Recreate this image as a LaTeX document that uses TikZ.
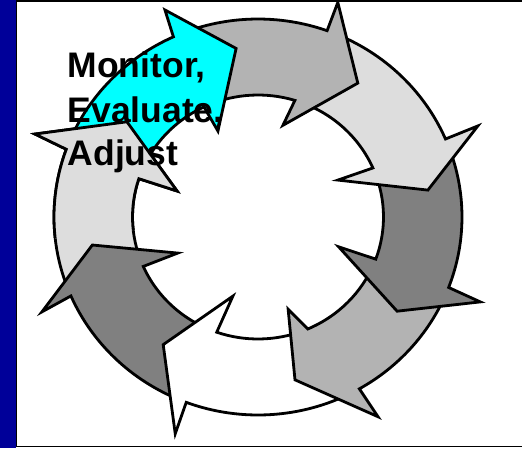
\documentclass[tikz,border=0pt]{standalone}
\usepackage{fontspec}
\setmainfont{Liberation Sans}
\definecolor{barblue}{HTML}{000099}
\definecolor{cyanfill}{HTML}{00FFFF}
\definecolor{midgray}{HTML}{B3B3B3}
\definecolor{lightgray}{HTML}{DDDDDD}
\definecolor{darkgray}{HTML}{808080}
\begin{document}
\begin{tikzpicture}[x=1pt,y=1pt,
  ringarrow/.style={draw=black, line width=2.8pt, line join=miter, miter limit=12},
  lbl/.style={font=\fontsize{35.5}{42}\selectfont\bfseries, inner sep=0pt, anchor=base west, text=black},
  frameline/.style={draw=black, line width=1.6pt}]
\useasboundingbox (0,0) rectangle (522,-448);
\fill[white] (0,0) rectangle (522,-448);
\fill[barblue] (0,0) rectangle (15.5,-448);
\draw[frameline] (524,-1) -- (16.3,-1) -- (16.3,-446.6) -- (524,-446.6);
\begin{scope}[shift={(258,-217)}]
% 8 light gray (left)
\path[ringarrow, fill=lightgray] (-158.5:204 and 198) arc[start angle=-158.5, end angle=-200, x radius=204, y radius=198]
  -- (-200.4:238) -- (-216:162) -- (-197.8:85) -- (-198.3:125.5 and 122)
  arc[start angle=-198.3, end angle=-158.1, x radius=125.5, y radius=122] -- cycle;
% 7 dark gray (left)
\path[ringarrow, fill=darkgray] (-112.6:204 and 198) arc[start angle=-112.6, end angle=-156.5, x radius=204, y radius=198]
  -- (-156.3:236) -- (-170.4:168) -- (-155.8:88) -- (-156.1:125.5 and 122)
  arc[start angle=-156.1, end angle=-111.2, x radius=125.5, y radius=122] -- cycle;
% 6 white
\path[ringarrow, fill=white] (-62.2:204 and 198) arc[start angle=-62.2, end angle=-110.6, x radius=204, y radius=198]
  -- (-110.9:232) -- (-126.6:159) -- (-107.6:83) -- (-109.2:125.5 and 122)
  arc[start angle=-109.2, end angle=-68.6, x radius=125.5, y radius=122] -- cycle;
% 5 medium gray
\path[ringarrow, fill=midgray] (-22.85:204 and 198) arc[start angle=-22.85, end angle=-60.2, x radius=204, y radius=198]
  -- (-59:233) -- (-77.2:167) -- (-71.9:97) -- (-66.6:125.5 and 122)
  arc[start angle=-66.6, end angle=-22.2, x radius=125.5, y radius=122] -- cycle;
% 4 dark gray (right)
\path[ringarrow, fill=darkgray] (21.2:204 and 198) arc[start angle=21.2, end angle=-20.85, x radius=204, y radius=198]
  -- (-20.9:238) -- (-34.1:168) -- (-20.3:86) -- (-20.2:125.5 and 122)
  arc[start angle=-20.2, end angle=21.7, x radius=125.5, y radius=122] -- cycle;
% 3 light gray (top right)
\path[ringarrow, fill=lightgray] (68.2:204 and 198) arc[start angle=68.2, end angle=23.2, x radius=204, y radius=198]
  -- (22.5:238) -- (9:172) -- (24.8:88) -- (23.7:125.5 and 122)
  arc[start angle=23.7, end angle=70.9, x radius=125.5, y radius=122] -- cycle;
% 2 gray (top)
\path[ringarrow, fill=midgray] (112.5:204 and 198) arc[start angle=112.5, end angle=70.2, x radius=204, y radius=198]
  -- (69.6:229) -- (53.3:167) -- (74.8:95) -- (72.9:125.5 and 122)
  arc[start angle=72.9, end angle=113.5, x radius=125.5, y radius=122] -- cycle;
% 1 cyan
\path[ringarrow, fill=cyanfill] (158:204 and 198) arc[start angle=158, end angle=114.5, x radius=204, y radius=198]
  -- (114.2:227) -- (97.4:170) -- (115:94.8) -- (115.5:125.5 and 122)
  arc[start angle=115.5, end angle=159.7, x radius=125.5, y radius=122] -- cycle;
% head of arrow 8 again, over the tail of arrow 1
\begin{scope}
\clip (0,0) -- (128:420) arc[start angle=128, end angle=186, radius=420] -- cycle;
\path[ringarrow, fill=lightgray] (-158.5:204 and 198) arc[start angle=-158.5, end angle=-200, x radius=204, y radius=198]
  -- (-200.4:238) -- (-216:162) -- (-197.8:85) -- (-198.3:125.5 and 122)
  arc[start angle=-198.3, end angle=-158.1, x radius=125.5, y radius=122] -- cycle;
\end{scope}
\end{scope}
\node[lbl] (line1) at (67.5,-77.5) {Monitor,};
\node[lbl] (line2) at (67.5,-122.5) {Evaluate,};
\node[lbl] (line3) at (67.5,-165) {Adjust};
\end{tikzpicture}
\end{document}
